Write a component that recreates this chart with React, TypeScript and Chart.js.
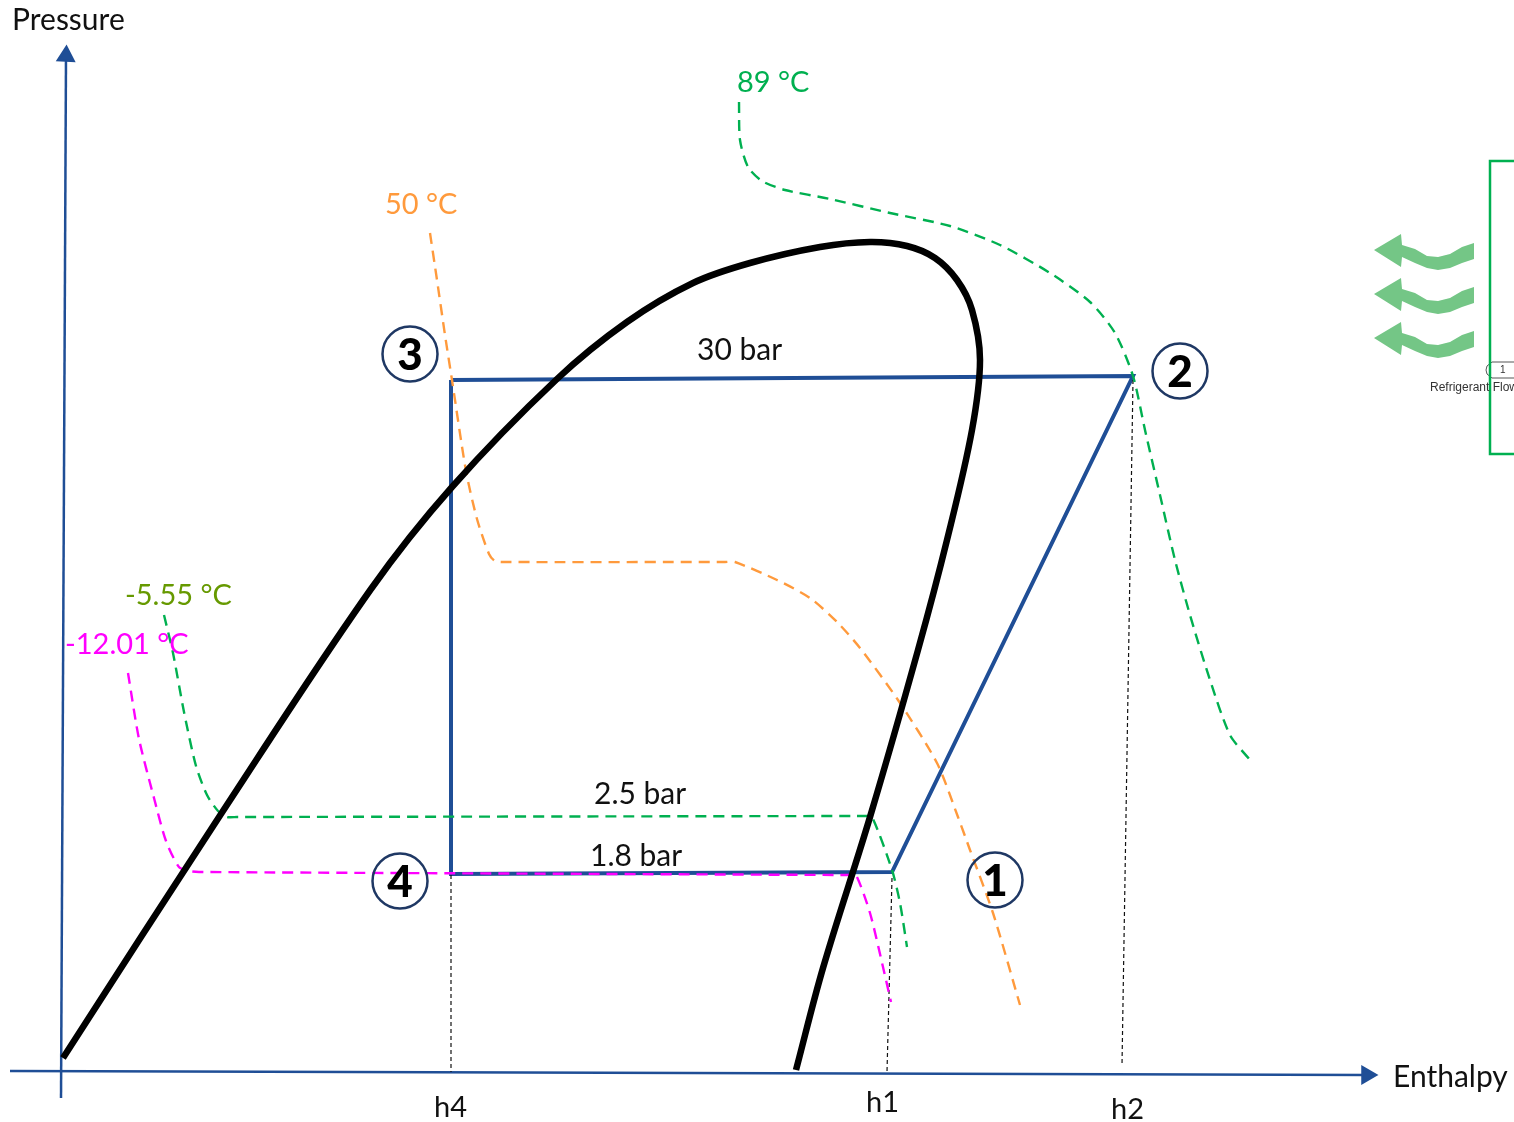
import React, { useEffect, useRef } from "react";
import { Chart, registerables } from "chart.js";

Chart.register(...registerables);

type P = { x: number; y: number };
const pts = (a: number[][]): P[] => a.map(([x, y]) => ({ x, y }));

const saturationDome = [[63,1058],[221,814],[371,589],[452,487],[557,379],[627,322],[693,283],[750,263],[820,247],[870,242],[907,246],[935,258],[957,280],[972,310],[980,360],[972,430],[947,540],[918,650],[870,817],[823,968],[796,1070]];
const cycle = [[451,380],[1133,376],[892,872],[451,874],[451,380]];
const isotherm89 = [[739,102],[740,140],[748,167],[762,181],[785,190],[830,199],[890,213],[950,226],[1000,245],[1050,273],[1090,302],[1115,333],[1133,376],[1145,430],[1160,495],[1175,560],[1190,615],[1210,680],[1230,735],[1250,760]];
const isotherm50 = [[430,233],[437,280],[445,335],[452,380],[466,471],[477,519],[489,554],[495,561],[505,562],[725,562],[735,562],[777,580],[810,598],[837,622],[860,648],[898,700],[937,763],[958,817],[970,850],[993,913],[1020,1005]];
const isothermMinus555 = [[164,615],[173,653],[184,712],[196,766],[207,795],[218,811],[227,817],[237,817],[855,816],[865,816],[872,817],[892,870],[900,903],[907,947]];
const isothermMinus1201 = [[128,673],[139,739],[154,798],[166,841],[179,867],[189,871],[199,872],[840,875],[850,875],[856,875],[870,913],[883,967],[891,1002]];
const dropH4 = [[451,875],[451,1072]];
const dropH1 = [[892,878],[887,1072]];
const dropH2 = [[1133,380],[1122,1065]];
const pressureAxis = [[61,1098],[66,56]];
const enthalpyAxis = [[10,1071],[1367,1075]];
const stateCentres = [[995,880],[1180,371],[410,354],[400,881]];
const arrowTop = [[1374,250],[1401,234],[1402,245],[1415,249],[1427,256],[1438,257],[1450,254],[1462,247],[1474,243],[1474,259],[1462,263],[1450,268],[1438,270],[1427,268],[1415,263],[1402,257],[1401,267],[1374,250]];
const arrowMiddle = [[1374,294],[1401,278],[1402,289],[1415,293],[1427,300],[1438,301],[1450,298],[1462,291],[1474,287],[1474,303],[1462,307],[1450,312],[1438,314],[1427,312],[1415,307],[1402,301],[1401,311],[1374,294]];
const arrowBottom = [[1374,338],[1401,322],[1402,333],[1415,337],[1427,344],[1438,345],[1450,342],[1462,335],[1474,331],[1474,347],[1462,351],[1450,356],[1438,358],[1427,356],[1415,351],[1402,345],[1401,355],[1374,338]];
const evaporatorBox = [[1514,161],[1490,161],[1490,454],[1514,454]];
const portPill = [[1514,362],[1492,362],[1487,366],[1486,370],[1487,374],[1492,378],[1514,378]];

const NAVY = "#1F4E96";
const GREEN = "#00B050";
const ORANGE = "#FF9A3C";
const MAGENTA = "#FF00FF";
const OLIVE = "#669900";

const labels: [string, number, number, string, number, string, string][] = [
  ["Pressure", 12, 20, "#111111", 30, "400", "Lato"],
  ["Enthalpy", 1393, 1077, "#111111", 30, "400", "Lato"],
  ["89 °C", 737, 83, GREEN, 29, "400", "Lato"],
  ["50 °C", 385, 205, ORANGE, 29, "400", "Lato"],
  ["-5.55 °C", 125, 596, OLIVE, 29, "400", "Lato"],
  ["-12.01 °C", 65, 645, MAGENTA, 29, "400", "Lato"],
  ["30 bar", 697, 350, "#111111", 30, "400", "Lato"],
  ["2.5 bar", 594, 794, "#111111", 30, "400", "Lato"],
  ["1.8 bar", 590, 856, "#111111", 30, "400", "Lato"],
  ["h4", 434, 1108, "#111111", 29, "400", "Lato"],
  ["h1", 866, 1103, "#111111", 29, "400", "Lato"],
  ["h2", 1111, 1110, "#111111", 29, "400", "Lato"],
  ["Refrigerant Flow", 1430, 388, "#333333", 12, "400", "Liberation Sans"],
  ["1", 1500, 370, "#333333", 10, "400", "Liberation Sans"],
];
const stateNumbers = ["1", "2", "3", "4"];

const line = (data: number[][], color: string, width: number, extra: object = {}) => ({
  type: "line" as const,
  data: pts(data),
  borderColor: color,
  borderWidth: width,
  pointRadius: 0,
  fill: false,
  ...extra,
});
const dashed = (data: number[][], color: string) =>
  line(data, color, 2.4, { borderDash: [11, 7], tension: 0.25 });
const thinDash = (data: number[][]) => line(data, "#111111", 1.2, { borderDash: [4, 3] });
const wave = (data: number[][]) =>
  line(data, "#74C686", 0, { fill: "shape", backgroundColor: "#74C686", tension: 0 });

const textPlugin = {
  id: "diagramText",
  afterDatasetsDraw(chart: any) {
    const { ctx, scales } = chart;
    ctx.save();
    ctx.textBaseline = "middle";
    ctx.textAlign = "left";
    for (const [text, x, y, color, size, weight, family] of labels) {
      ctx.font = `${weight} ${size}px "${family}"`;
      ctx.fillStyle = color;
      ctx.fillText(text, scales.x.getPixelForValue(x), scales.y.getPixelForValue(y));
    }
    ctx.textAlign = "center";
    ctx.font = `900 44px "Lato"`;
    ctx.fillStyle = "#000000";
    stateNumbers.forEach((n, i) => {
      const [x, y] = stateCentres[i];
      ctx.fillText(n, scales.x.getPixelForValue(x), scales.y.getPixelForValue(y) + 2);
    });
    ctx.restore();
  },
};

export default function App() {
  const ref = useRef<HTMLCanvasElement>(null);
  useEffect(() => {
    const chart = new Chart(ref.current!, {
      type: "scatter",
      data: {
        datasets: [
          {
            type: "scatter" as const,
            data: pts(stateCentres),
            pointRadius: 27.5,
            pointBorderWidth: 2.5,
            pointBorderColor: "#1F3864",
            pointBackgroundColor: "rgba(0,0,0,0)",
          },
          line(saturationDome, "#000000", 6.5, { tension: 0.35, borderCapStyle: "butt" }),
          dashed(isothermMinus1201, MAGENTA),
          dashed(isothermMinus555, GREEN),
          dashed(isotherm50, ORANGE),
          dashed(isotherm89, GREEN),
          thinDash(dropH4),
          thinDash(dropH1),
          thinDash(dropH2),
          line(cycle, NAVY, 4),
          line(pressureAxis, NAVY, 2.5, {
            pointRadius: [0, 9],
            pointStyle: "triangle",
            pointRotation: 3,
            pointBackgroundColor: NAVY,
            pointBorderColor: NAVY,
          }),
          line(enthalpyAxis, NAVY, 2.5, {
            pointRadius: [0, 9],
            pointStyle: "triangle",
            pointRotation: 90,
            pointBackgroundColor: NAVY,
            pointBorderColor: NAVY,
          }),
          wave(arrowTop),
          wave(arrowMiddle),
          wave(arrowBottom),
          line(evaporatorBox, GREEN, 2.5),
          line(portPill, "#555555", 1),
        ] as any,
      },
      options: {
        responsive: false,
        animation: false,
        events: [],
        layout: { padding: 0, autoPadding: false },
        scales: {
          x: { type: "linear", min: 0, max: 1514, display: false },
          y: { type: "linear", min: 0, max: 1122, reverse: true, display: false },
        },
        plugins: { legend: { display: false }, tooltip: { enabled: false }, title: { display: false } },
      },
      plugins: [textPlugin],
    });
    return () => chart.destroy();
  }, []);
  return (
    <canvas
      ref={ref}
      width={1514}
      height={1122}
      style={{ position: "absolute", left: 0, top: 0, width: 1514, height: 1122, display: "block" }}
    />
  );
}
